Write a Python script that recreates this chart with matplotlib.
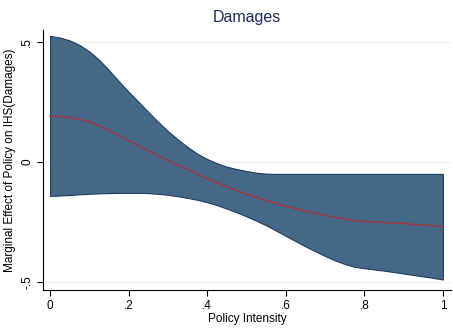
import numpy as np
from matplotlib import pyplot as plt

# Marginal effect of policy on IHS(Damages).
intensity = [0, .025, .05, .075, .1, .125, .15, .175, .2, .225, .25,
             .275, .3, .325, .35, .375, .4, .425, .45, .475, .5,
             .525, .55, .575, .6, .625, .65, .675, .7, .725, .75,
             .775, .8, .825, .85, .875, .9, .925, .95, .975, 1]
effect = [0.19, 0.189, 0.185, 0.178, 0.167, 0.15, 0.131, 0.11, 0.089, 0.067, 0.046,
          0.025, 0.005, -0.013, -0.031, -0.05, -0.07, -0.087, -0.103, -0.12, -0.135,
          -0.148, -0.16, -0.173, -0.185, -0.195, -0.205, -0.214, -0.222, -0.23, -0.238,
          -0.245, -0.248, -0.25, -0.252, -0.254, -0.257, -0.26, -0.263, -0.266, -0.27]
ci_upper = [0.525, 0.518, 0.506, 0.487, 0.46, 0.425, 0.382, 0.336, 0.292, 0.25, 0.208,
            0.167, 0.128, 0.094, 0.062, 0.034, 0.012, -0.006, -0.02, -0.03, -0.038,
            -0.045, -0.049, -0.05, -0.05, -0.05, -0.05, -0.05, -0.05, -0.05, -0.05,
            -0.05, -0.05, -0.05, -0.05, -0.05, -0.05, -0.05, -0.05, -0.05, -0.05]
ci_lower = [-0.142, -0.14, -0.138, -0.135, -0.133, -0.131, -0.13, -0.129, -0.129, -0.129, -0.13,
            -0.133, -0.137, -0.143, -0.15, -0.158, -0.168, -0.18, -0.195, -0.21, -0.227,
            -0.245, -0.264, -0.286, -0.308, -0.33, -0.352, -0.372, -0.392, -0.41, -0.425,
            -0.437, -0.443, -0.448, -0.453, -0.459, -0.465, -0.471, -0.477, -0.483, -0.49]

xticks = [0, .2, .4, .6, .8, 1]
xticklabels = ['0', '.2', '.4', '.6', '.8', '1']
yticks = [-.5, 0, .5]
yticklabels = ['-.5', '0', '.5']

plt.rcParams['font.family'] = ['Liberation Sans', 'DejaVu Sans']

fig = plt.figure(figsize=(4.53, 3.32), dpi=100)
ax = fig.add_axes([0.095, 0.127, 0.9, 0.783])

# Gridlines like Stata's s2color scheme.
for yv in yticks:
    ax.axhline(yv, color='#eaf2f3', lw=1, zorder=0)

ax.fill_between(intensity, ci_lower, ci_upper, facecolor='#466887',
                edgecolor='#1c3d60', lw=0.8, zorder=2)
ax.plot(intensity, effect, color='#a8333a', lw=1, zorder=3)

ax.set_xlim(-0.018, 1.02)
ax.set_ylim(-0.533, 0.55)
ax.set_xticks(xticks)
ax.set_xticklabels(xticklabels)
ax.set_yticks(yticks)
ax.set_yticklabels(yticklabels, rotation=90, va='center')
ax.tick_params(axis='both', direction='out', length=4, width=0.8,
               labelsize=8.5, colors='black', pad=3)

for side in ['top', 'right']:
    ax.spines[side].set_visible(False)
for side in ['left', 'bottom']:
    ax.spines[side].set_color('black')
    ax.spines[side].set_linewidth(0.8)

ax.set_title('Damages', fontsize=11.5, color='#1e2a5a', pad=6)
ax.set_xlabel('Policy Intensity', fontsize=8.5, labelpad=1)
ax.set_ylabel('Marginal Effect of Policy on IHS(Damages)', fontsize=8.5, labelpad=4)

fig.savefig('out.png', dpi=100)
